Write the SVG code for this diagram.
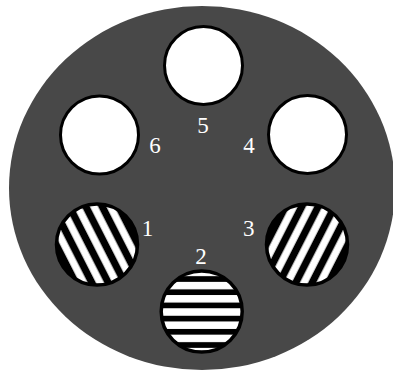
<svg xmlns="http://www.w3.org/2000/svg" width="393" height="372" viewBox="0 0 393 372">
  <style>
    .hole { fill: #ffffff; stroke: #000000; stroke-width: 3; }
    .lens { stroke: #000000; stroke-width: 3.5; fill: none; }
    .base { fill: #000000; }
    .lbl { font-family: "Liberation Serif", "Times New Roman", serif; font-size: 23px; fill: #ffffff; text-anchor: middle; }
  </style>
  <defs>
    <pattern id="hStripes" patternUnits="userSpaceOnUse" x="0" y="308.25" width="20" height="13.2">
      <rect x="0" y="0" width="20" height="7.5" fill="#ffffff"/>
    </pattern>
    <pattern id="dStripesL" patternUnits="userSpaceOnUse" x="0" y="0" width="20" height="14.6" patternTransform="translate(97 244.5) rotate(63)">
      <rect x="0" y="-3.6" width="20" height="7.3" fill="#ffffff"/>
      <rect x="0" y="11" width="20" height="7.3" fill="#ffffff"/>
    </pattern>
    <pattern id="dStripesR" patternUnits="userSpaceOnUse" x="0" y="0" width="20" height="14.6" patternTransform="translate(307 244.5) rotate(-63)">
      <rect x="0" y="-3.6" width="20" height="7.3" fill="#ffffff"/>
      <rect x="0" y="11" width="20" height="7.3" fill="#ffffff"/>
    </pattern>
  </defs>

  <g id="wheel">
    <ellipse cx="202" cy="188" rx="193" ry="182" fill="#484848"/>
  </g>

  <g id="node-5">
    <circle class="hole" cx="203.5" cy="65.5" r="39"/>
    <text class="lbl" x="203" y="132.5">5</text>
  </g>
  <g id="node-6">
    <circle class="hole" cx="99.5" cy="135" r="39"/>
    <text class="lbl" x="155" y="152.5">6</text>
  </g>
  <g id="node-4">
    <circle class="hole" cx="307.5" cy="134.5" r="39"/>
    <text class="lbl" x="249" y="152.5">4</text>
  </g>
  <g id="node-1">
    <circle class="base" cx="97" cy="244.5" r="40.5"/>
    <circle cx="97" cy="244.5" r="40.5" fill="url(#dStripesL)"/>
    <circle class="lens" cx="97" cy="244.5" r="40.5"/>
    <text class="lbl" x="147.5" y="236">1</text>
  </g>
  <g id="node-3">
    <circle class="base" cx="307" cy="244.5" r="40.5"/>
    <circle cx="307" cy="244.5" r="40.5" fill="url(#dStripesR)"/>
    <circle class="lens" cx="307" cy="244.5" r="40.5"/>
    <text class="lbl" x="248.7" y="236">3</text>
  </g>
  <g id="node-2">
    <circle class="base" cx="201.7" cy="311.5" r="40.5"/>
    <circle cx="201.7" cy="311.5" r="40.5" fill="url(#hStripes)"/>
    <circle class="lens" cx="201.7" cy="311.5" r="40.5"/>
    <text class="lbl" x="201" y="264">2</text>
  </g>
</svg>
